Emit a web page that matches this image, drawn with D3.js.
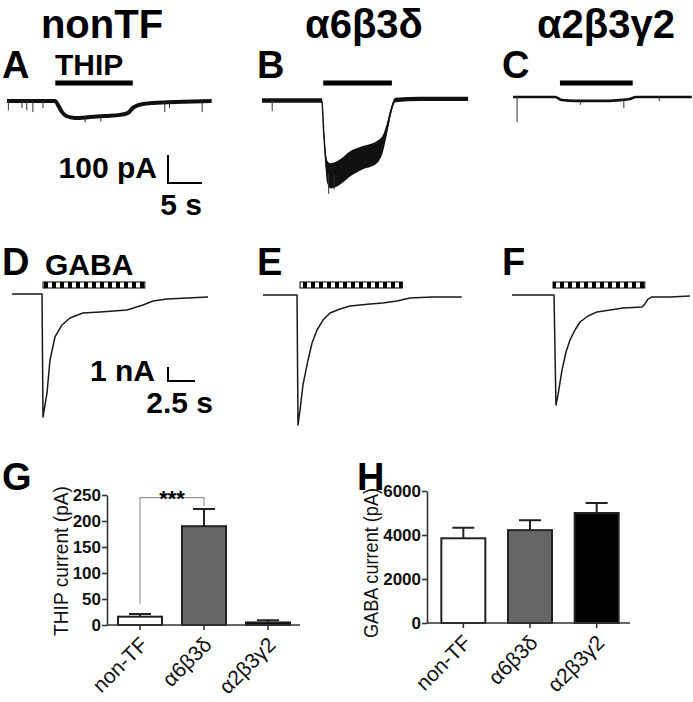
<!DOCTYPE html>
<html>
<head>
<meta charset="utf-8">
<script src="https://cdn.jsdelivr.net/npm/d3@7"></script>
<style>
body { margin: 0; background: #fff; }
svg { display: block; font-family: "Liberation Sans", Arial, sans-serif; }
</style>
</head>
<body>
<script>
// column headings
var columnTitles = ["nonTF", "α6β3δ", "α2β3γ2"];

// THIP traces (time in s, current in pA)
var thipA_t  = [0, 3.4, 7.1, 7.5, 8.1, 8.7, 10, 12.2, 14.4, 16.6, 17.8, 18.5, 19.3, 21, 24.7, 30.1];
var thipA_pA = [4, 4, 4, -11, -36, -50, -57, -54, -50, -46, -39, -21, -11, -4, 0, 4];
// spontaneous events: time and tip current (pA)
var thipA_spikeT  = [0.2, 2.2, 2.9, 3.8, 5.3, 11.5, 13.8, 23.2, 23.9, 28.7];
var thipA_spikePA = [-30, -22, -30, -36, -22, -72, -70, -36, -22, -36];

var thipB_t     = [0, 8.8, 9.1, 9.6, 10.1, 11.5, 12.9, 14.7, 16.9, 17.8, 18.4, 19.0, 19.6, 23.2, 30.3];
var thipB_pA    = [-2, -2, -125, -257, -271, -257, -229, -207, -186, -154, -100, -36, 0, 4, 4];
var thipB_noise = [8, 8, 15, 40, 45, 45, 45, 42, 40, 30, 20, 12, 8, 8, 8];
var thipB_spikeT  = [1.5, 9.8, 10.6];
var thipB_spikePA = [-40, -335, -320];

var thipC_t  = [0, 6.2, 7.2, 9.1, 12.8, 15.7, 17.2, 18.1, 26.3];
var thipC_pA = [0, 0, -11, -14, -14, -11, -7, 0, 0];
var thipC_spikeT  = [0.6, 9.9, 16.3, 21.5];
var thipC_spikePA = [-90, -28, -40, -15];

// THIP application bars (s)
var thipOn  = [7.1, 9.0, 6.9];
var thipOff = [18.5, 19.1, 17.6];

// GABA traces (time in s, current in nA)
var gabaD_t  = [0, 2.78, 2.87, 3.24, 3.52, 3.98, 4.63, 5.37, 6.57, 8.15, 10.65, 12.13, 13.06, 14.35, 18.15];
var gabaD_nA = [0, 0, -8.79, -7.07, -4.71, -3.07, -2.21, -1.71, -1.36, -1.29, -1.14, -0.79, -0.5, -0.36, -0.21];
var gabaE_t  = [0, 3.15, 3.24, 3.43, 3.70, 4.17, 4.54, 5.0, 5.56, 6.2, 7.13, 8.06, 9.91, 11.1, 12.4, 13.6, 15.7, 18.4];
var gabaE_nA = [0, 0, -9.29, -8.21, -6.43, -4.64, -3.43, -2.5, -1.79, -1.29, -1.0, -0.79, -0.64, -0.57, -0.43, -0.21, -0.14, -0.14];
var gabaF_t  = [0, 3.89, 4.07, 4.26, 4.63, 5.0, 5.37, 5.83, 6.3, 7.04, 7.87, 9.07, 10.28, 12.04, 12.31, 12.59, 12.96, 14.63, 16.48];
var gabaF_nA = [0, 0, -7.86, -7.14, -5.36, -4.07, -3.21, -2.5, -1.93, -1.5, -1.21, -1.07, -0.93, -0.86, -0.64, -0.29, -0.14, -0.14, -0.07];

// GABA application bars (s)
var gabaOn  = [2.87, 3.43, 3.8];
var gabaOff = [12.3, 12.9, 12.3];

// bar charts
var groups = ["non-TF", "α6β3δ", "α2β3γ2"];
var groupFill = ["#fff", "#666", "#000"];
var thipMean = [16, 190, 5];
var thipSem  = [5, 33, 4];
var gabaMean = [3850, 4220, 5000];
var gabaSem  = [480, 450, 450];
var thipTicks = [0, 50, 100, 150, 200, 250];
var gabaTicks = [0, 2000, 4000, 6000];

var width = 693, height = 702;

var svg = d3.select("body").append("svg")
    .attr("width", width)
    .attr("height", height);

// checker pattern for the GABA application bar
svg.append("defs").append("pattern")
    .attr("id", "checker")
    .attr("patternUnits", "userSpaceOnUse")
    .attr("width", 8).attr("height", 6)
    .append("rect").attr("width", 4).attr("height", 6).attr("fill", "#000");

// column titles
var titleX = [102, 364, 606];
svg.selectAll(".title")
    .data(columnTitles)
    .enter().append("text")
    .attr("x", function(d, i) { return titleX[i]; })
    .attr("y", 38)
    .attr("text-anchor", "middle")
    .attr("font-size", 40)
    .attr("font-weight", "bold")
    .text(function(d) { return d; });

// panel letters
var letters = [["A", 2, 78], ["B", 257, 78], ["C", 502, 78],
               ["D", 2, 275], ["E", 257, 275], ["F", 502, 275],
               ["G", 2, 490], ["H", 357, 490]];
svg.selectAll(".letter")
    .data(letters)
    .enter().append("text")
    .attr("x", function(d) { return d[1]; })
    .attr("y", function(d) { return d[2]; })
    .attr("font-size", 38)
    .attr("font-weight", "bold")
    .text(function(d) { return d[0]; });

// ---------- THIP traces ----------
var xThip = d3.scaleLinear().domain([0, 30]).range([0, 204]);   // 6.8 px/s
var yThip = d3.scaleLinear().domain([0, -400]).range([0, 112]); // 0.28 px/pA

var thipPanels = [
    {x0: 7,   y0: 102, t: thipA_t, v: thipA_pA, st: thipA_spikeT, sv: thipA_spikePA, w: 4},
    {x0: 262, y0: 100, t: thipB_t, v: thipB_pA, st: thipB_spikeT, sv: thipB_spikePA, w: 1.5, noise: thipB_noise},
    {x0: 513, y0: 97,  t: thipC_t, v: thipC_pA, st: thipC_spikeT, sv: thipC_spikePA, w: 2.6}
];

var thipLine = d3.line()
    .x(function(d) { return xThip(d[0]); })
    .y(function(d) { return yThip(d[1]); })
    .curve(d3.curveMonotoneX);

thipPanels.forEach(function(p, i) {
    var g = svg.append("g").attr("transform", "translate(" + p.x0 + "," + p.y0 + ")");
    var pts = p.t.map(function(t, k) { return [t, p.v[k]]; });

    if (p.noise) {
        var band = d3.area()
            .x(function(d) { return xThip(d[0]); })
            .y0(function(d) { return yThip(d[1] - d[2]); })
            .y1(function(d) { return yThip(d[1] + d[2]); })
            .curve(d3.curveMonotoneX);
        g.append("path")
            .datum(p.t.map(function(t, k) { return [t, p.v[k], p.noise[k]]; }))
            .attr("d", band)
            .attr("fill", "#111");
    }

    g.append("path")
        .datum(pts)
        .attr("d", thipLine)
        .attr("fill", "none")
        .attr("stroke", "#111")
        .attr("stroke-width", p.w);

    // spontaneous events, from trace level down to tip
    var level = d3.scaleLinear().domain(p.t).range(p.v);
    g.selectAll(".spike")
        .data(p.st.map(function(t, k) { return [t, p.sv[k]]; }))
        .enter().append("line")
        .attr("x1", function(d) { return xThip(d[0]); })
        .attr("x2", function(d) { return xThip(d[0]); })
        .attr("y1", function(d) { return yThip(level(d[0])); })
        .attr("y2", function(d) { return yThip(d[1]); })
        .attr("stroke", "#333")
        .attr("stroke-width", 1);

    // THIP application bar
    g.append("rect")
        .attr("x", xThip(thipOn[i]))
        .attr("y", 83 - p.y0 - 2.5)
        .attr("width", xThip(thipOff[i]) - xThip(thipOn[i]))
        .attr("height", 5)
        .attr("fill", "#000");
});

svg.append("text")
    .attr("x", 55).attr("y", 75)
    .attr("font-size", 30).attr("font-weight", "bold")
    .text("THIP");

// THIP scale bar: 100 pA, 5 s
svg.append("path")
    .attr("transform", "translate(168,183)")
    .attr("d", "M0," + (-yThip(-100)) + "V0H" + xThip(5))
    .attr("fill", "none").attr("stroke", "#000").attr("stroke-width", 2);
svg.append("text").attr("x", 157).attr("y", 178).attr("text-anchor", "end")
    .attr("font-size", 30).attr("font-weight", "bold").text("100 pA");
svg.append("text").attr("x", 202).attr("y", 215).attr("text-anchor", "end")
    .attr("font-size", 30).attr("font-weight", "bold").text("5 s");

// ---------- GABA traces ----------
var xGaba = d3.scaleLinear().domain([0, 20]).range([0, 216]);   // 10.8 px/s
var yGaba = d3.scaleLinear().domain([0, -10]).range([0, 140]);  // 14 px/nA

var gabaPanels = [
    {x0: 12,  y0: 294, t: gabaD_t, v: gabaD_nA},
    {x0: 263, y0: 295, t: gabaE_t, v: gabaE_nA},
    {x0: 512, y0: 295, t: gabaF_t, v: gabaF_nA}
];

var gabaLine = d3.line()
    .x(function(d) { return xGaba(d[0]); })
    .y(function(d) { return yGaba(d[1]); });

gabaPanels.forEach(function(p, i) {
    var g = svg.append("g").attr("transform", "translate(" + p.x0 + "," + p.y0 + ")");
    g.append("path")
        .datum(p.t.map(function(t, k) { return [t, p.v[k]]; }))
        .attr("d", gabaLine)
        .attr("fill", "none")
        .attr("stroke", "#1a1a1a")
        .attr("stroke-width", 1.5)
        .attr("stroke-linejoin", "round");

    var bx = xGaba(gabaOn[i]), bw = xGaba(gabaOff[i]) - bx;
    g.append("rect")
        .attr("x", bx).attr("y", 285 - p.y0 - 3)
        .attr("width", bw).attr("height", 6)
        .attr("fill", "url(#checker)")
        .attr("stroke", "#000").attr("stroke-width", 1);
});

svg.append("text")
    .attr("x", 45).attr("y", 275)
    .attr("font-size", 30).attr("font-weight", "bold")
    .text("GABA");

// GABA scale bar: 1 nA, 2.5 s
svg.append("path")
    .attr("transform", "translate(168,381)")
    .attr("d", "M0," + (-yGaba(-1)) + "V0H" + xGaba(2.5))
    .attr("fill", "none").attr("stroke", "#000").attr("stroke-width", 2);
svg.append("text").attr("x", 155).attr("y", 381).attr("text-anchor", "end")
    .attr("font-size", 30).attr("font-weight", "bold").text("1 nA");
svg.append("text").attr("x", 213).attr("y", 413).attr("text-anchor", "end")
    .attr("font-size", 30).attr("font-weight", "bold").text("2.5 s");

// ---------- bar charts ----------
function barChart(opts) {
    var g = svg.append("g");
    var x = d3.scaleBand().domain(groups).range(opts.xr).paddingInner(opts.pad).paddingOuter(opts.pad / 2);
    var y = d3.scaleLinear().domain(opts.domain).range(opts.yr);

    g.selectAll(".bar")
        .data(opts.mean)
        .enter().append("rect")
        .attr("x", function(d, i) { return x(groups[i]); })
        .attr("y", function(d) { return y(d); })
        .attr("width", x.bandwidth())
        .attr("height", function(d) { return y(0) - y(d); })
        .attr("fill", function(d, i) { return groupFill[i]; })
        .attr("stroke", "#222")
        .attr("stroke-width", 2);

    // error bars (upper only)
    opts.mean.forEach(function(m, i) {
        var cx = x(groups[i]) + x.bandwidth() / 2;
        g.append("path")
            .attr("d", "M" + cx + "," + y(m) + "V" + y(m + opts.sem[i]) +
                       "M" + (cx - 11) + "," + y(m + opts.sem[i]) + "H" + (cx + 11))
            .attr("fill", "none")
            .attr("stroke", "#222")
            .attr("stroke-width", 2);
    });

    var yAxis = g.append("g")
        .attr("transform", "translate(" + opts.ax + ",0)")
        .call(d3.axisLeft(y).tickValues(opts.ticks).tickFormat(d3.format("d"))
              .tickSize(5).tickSizeOuter(0).tickPadding(1));
    yAxis.selectAll("text")
        .attr("font-size", opts.tickFont)
        .attr("font-weight", "bold")
        .attr("font-family", "Liberation Sans, Arial, sans-serif")
        .attr("fill", "#111");

    var xAxis = g.append("g")
        .attr("transform", "translate(0," + y(0) + ")")
        .call(d3.axisBottom(x).tickSize(5).tickSizeOuter(0));
    xAxis.select(".domain").attr("d", "M" + opts.ax + ",0H" + opts.xr[1]);
    xAxis.selectAll("text")
        .attr("font-size", 21)
        .attr("font-family", "Liberation Sans, Arial, sans-serif")
        .attr("fill", "#111")
        .attr("text-anchor", "end")
        .attr("y", 0).attr("dy", 0)
        .attr("transform", "translate(9,21) rotate(-45)");

    g.selectAll(".domain, .tick line").attr("stroke", "#333").attr("stroke-width", 1.6);

    g.append("text")
        .attr("transform", "translate(" + opts.labelX + "," + opts.labelY + ") rotate(-90)")
        .attr("text-anchor", "middle")
        .attr("font-size", 21)
        .attr("textLength", 150)
        .attr("lengthAdjust", "spacingAndGlyphs")
        .attr("fill", "#111")
        .text(opts.label);

    return {x: x, y: y, g: g};
}

var G = barChart({
    xr: [108, 300], pad: 0.3125, domain: [0, 250], yr: [625, 495], ax: 107,
    mean: thipMean, sem: thipSem, ticks: thipTicks, tickFont: 17,
    label: "THIP current (pA)", labelX: 68, labelY: 561
});

// significance bracket non-TF vs α6β3δ
var c0 = G.x(groups[0]) + G.x.bandwidth() / 2,
    c1 = G.x(groups[1]) + G.x.bandwidth() / 2;
G.g.append("path")
    .attr("d", "M" + c0 + "," + G.y(thipMean[0] + thipSem[0] + 20) + "V" + G.y(245) +
               "H" + c1 + "V" + G.y(thipMean[1] + thipSem[1] + 6))
    .attr("fill", "none").attr("stroke", "#999").attr("stroke-width", 1.2);
G.g.append("text")
    .attr("x", (c0 + c1) / 2).attr("y", 506)
    .attr("text-anchor", "middle")
    .attr("font-size", 22).attr("font-weight", "bold")
    .text("***");

barChart({
    xr: [430, 630], pad: 0.34, domain: [0, 6000], yr: [623, 491], ax: 427,
    mean: gabaMean, sem: gabaSem, ticks: gabaTicks, tickFont: 17,
    label: "GABA current (pA)", labelX: 378, labelY: 563
});
</script>
</body>
</html>
